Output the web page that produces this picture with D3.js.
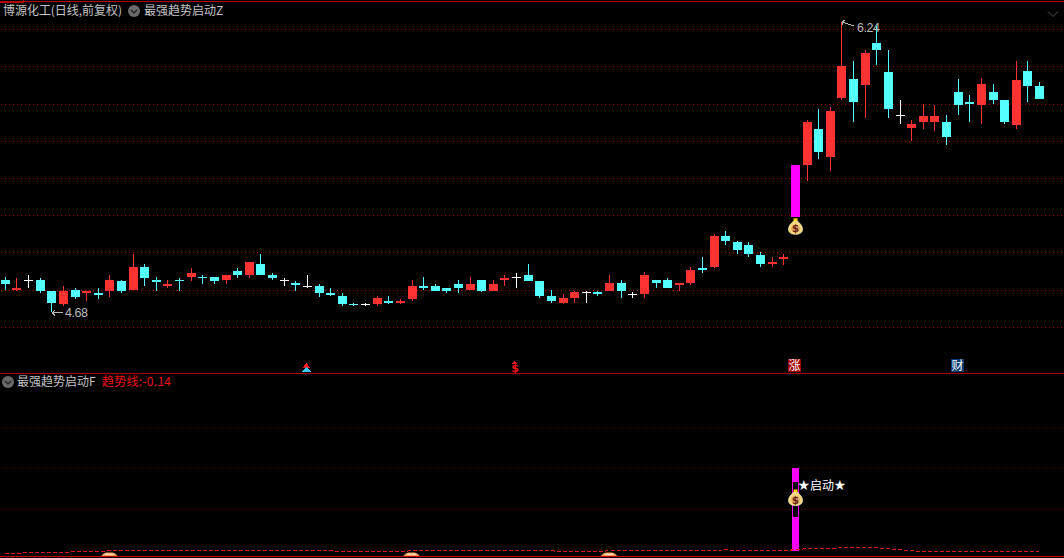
<!DOCTYPE html>
<html><head><meta charset="utf-8">
<script src="https://cdn.jsdelivr.net/npm/d3@7/dist/d3.min.js"></script>
<style>html,body{margin:0;padding:0;background:#000;overflow:hidden}svg{display:block}</style>
</head><body><svg id="c" width="1064" height="558"></svg>
<script>
const opens=[4.85,4.80,4.85,4.85,4.79,4.72,4.80,4.78,4.78,4.79,4.845,4.80,4.92,4.85,4.82,4.852,4.87,4.87,4.87,4.85,4.90,4.88,4.94,
4.88,4.85,4.835,4.82,4.82,4.78,4.765,4.722,4.72,4.72,4.74,4.73,4.75,4.82,4.82,4.81,4.83,4.80,4.85,4.79,4.85,4.87,4.88,
4.845,4.765,4.73,4.755,4.785,4.785,4.79,4.835,4.775,4.775,4.85,4.85,4.825,4.835,4.915,4.92,5.09,5.055,5.04,4.985,4.94,4.965,
5.19,5.47,5.665,5.515,5.83,5.935,5.90,6.125,5.97,5.74,5.67,5.70,5.70,5.70,5.865,5.81,5.795,5.865,5.82,5.685,5.975,5.895];
const closes=[4.83,4.81,4.85,4.79,4.73,4.79,4.76,4.79,4.77,4.85,4.79,4.92,4.86,4.84,4.83,4.85,4.89,4.86,4.845,4.88,4.88,4.95,4.88,
4.86,4.85,4.825,4.82,4.78,4.77,4.72,4.72,4.72,4.755,4.73,4.74,4.82,4.81,4.79,4.79,4.81,4.83,4.79,4.83,4.86,4.87,4.845,
4.765,4.74,4.755,4.785,4.785,4.775,4.835,4.79,4.775,4.88,4.835,4.81,4.835,4.905,4.905,5.09,5.06,5.01,4.99,4.94,4.95,4.975,
5.47,5.70,5.54,5.76,6.00,5.81,6.075,6.09,5.77,5.74,5.69,5.735,5.735,5.62,5.795,5.80,5.905,5.82,5.70,5.925,5.895,5.825];
const highs=[4.87,4.86,4.88,4.86,4.79,4.82,4.81,4.79,4.81,4.88,4.85,4.99,4.94,4.87,4.85,4.86,4.915,4.88,4.87,4.88,4.915,4.95,4.99,
4.89,4.86,4.845,4.88,4.83,4.81,4.78,4.73,4.73,4.765,4.765,4.75,4.85,4.87,4.83,4.81,4.85,4.87,4.85,4.85,4.88,4.89,4.94,
4.845,4.80,4.775,4.79,4.79,4.79,4.88,4.85,4.785,4.895,4.85,4.86,4.835,4.92,4.975,5.10,5.115,5.06,5.055,5.00,4.975,4.99,
5.47,5.71,5.77,5.78,6.24,6.03,6.09,6.22,6.09,5.82,5.71,5.80,5.795,5.74,5.935,5.845,5.94,5.905,5.82,6.03,6.03,5.915];
const lows=[4.80,4.79,4.81,4.78,4.68,4.71,4.75,4.74,4.75,4.76,4.78,4.80,4.82,4.79,4.81,4.79,4.845,4.83,4.83,4.83,4.86,4.86,4.88,
4.85,4.82,4.79,4.81,4.76,4.765,4.71,4.71,4.71,4.71,4.72,4.72,4.74,4.80,4.79,4.78,4.78,4.80,4.785,4.79,4.82,4.81,4.845,
4.755,4.73,4.72,4.73,4.73,4.765,4.79,4.755,4.755,4.755,4.81,4.81,4.79,4.825,4.89,4.915,5.04,4.99,4.975,4.92,4.92,4.93,
5.19,5.385,5.50,5.435,5.82,5.70,5.725,6.01,5.725,5.69,5.60,5.665,5.655,5.575,5.74,5.70,5.69,5.80,5.69,5.665,5.81,5.825];
const priceTicks=[4.6,4.8,5.0,5.2,5.4,5.6,5.8,6.0,6.2];
const lowerTicks=[1.96,4.0,6.03];
const trendLine=[-.22,-.22,-.19,-.19,-.19,-.19,-.14,-.14,-.14,
-.09,-.09,-.09,-.09,-.09,-.09,-.09,-.09,-.09,-.09,-.09,-.09,-.09,-.09,-.09,-.09,-.09,-.09,-.09,-.09,
-.14,-.14,-.14,-.14,-.14,-.14,
-.09,-.09,-.09,-.09,-.09,-.09,-.09,-.09,-.09,-.09,-.09,-.09,-.09,
-.14,-.14,-.14,-.14,
-.09,-.09,-.09,-.09,-.09,-.09,-.09,-.09,-.09,-.09,-.04,-.09,-.09,-.09,-.09,-.09,
-.04,.01,.01,.01,.06,.06,.06,.06,.01,-.04,-.09,
-.14,-.14,-.14,-.14,-.14,-.14,-.14,-.14,-.14,-.14,-.14];
const signalBars=[{i:68,from:-.1,to:1.53,solid:1},{i:68,from:1.53,to:3.37,solid:0},{i:68,from:3.37,to:4,solid:1}];
const bottomMarks=[9,35,52];
const launchIndex=68, bagPriceOffset=5.14, bagLowerValue=2.55;
const lowIndex=4, highIndex=72;
const titleMain="博源化工(日线,前复权)", titleZ="最强趋势启动Z", titleF="最强趋势启动F", trendLabel="趋势线:-0.14";
const tagBoxes=[{i:68,t:"涨",fill:"#a00000"},{i:82,t:"财",fill:"#0b3b70"}];

const RED="#ff3232",CYAN="#54ffff",MAG="#ff00ff",CJK='"Noto Sans CJK SC",sans-serif';
const svg=d3.select("#c").attr("shape-rendering","crispEdges");
svg.append("rect").attr("width",1064).attr("height",558).attr("fill","#000");
const x=d3.scaleLinear().domain([0,89]).range([4.8,1039]);
const y=d3.scaleLinear().domain([4.6,6.2]).range([326.7,29.3]);
const yL=d3.scaleLinear().domain([0,4]).range([548.9,468.3]);
const px=i=>Math.round(x(i));

// dotted grid drawn through repeating 1px patterns
const defs=svg.append("defs");
[["dotP","#a80000"],["dotL","#780000"]].forEach(([id,cl])=>{
 const p=defs.append("pattern").attr("id",id).attr("patternUnits","userSpaceOnUse").attr("width",4).attr("height",1);
 p.append("rect").attr("x",1).attr("y",0).attr("width",1).attr("height",1).attr("fill",cl);
});
const grid=(vals,sc,id)=>svg.append("g").selectAll("rect").data(vals).join("rect")
 .attr("x",0).attr("width",1064).attr("y",d=>Math.round(sc(d))).attr("height",1).attr("fill",`url(#${id})`);
grid(priceTicks,y,"dotP");
grid(lowerTicks,yL,"dotL");

// frame
const hl=(yy,cl)=>svg.append("rect").attr("x",0).attr("y",yy).attr("width",1064).attr("height",1).attr("fill",cl);
hl(1,"#b00000");hl(373,"#a80000");hl(556,"#c00000");
svg.append("path").attr("d","M0 2.5H23.5V0").attr("fill","none").attr("stroke","#b00000");

// candles
const idx=d3.range(opens.length);
const colorOf=i=>closes[i]>opens[i]?RED:closes[i]<opens[i]?CYAN:"#fff";
const g=svg.append("g");
g.selectAll(".w").data(idx).join("rect").attr("x",px).attr("width",1)
 .attr("y",i=>Math.round(y(highs[i]))).attr("height",i=>Math.max(1,Math.round(y(lows[i]))-Math.round(y(highs[i]))))
 .attr("fill",i=>i===launchIndex?MAG:colorOf(i));
g.selectAll(".b").data(idx).join("rect").attr("x",i=>px(i)-4).attr("width",9)
 .attr("y",i=>Math.round(y(Math.max(opens[i],closes[i]))))
 .attr("height",i=>Math.max(1,Math.round(y(Math.min(opens[i],closes[i])))-Math.round(y(Math.max(opens[i],closes[i])))))
 .attr("fill",i=>i===launchIndex?MAG:colorOf(i));

// lower signal bars
svg.append("g").selectAll("rect").data(signalBars).join("rect")
 .attr("x",d=>px(d.i)-3+(d.solid?0:.5)).attr("width",d=>d.solid?7:6)
 .attr("y",d=>Math.round(yL(d.to))+(d.solid?0:.5)).attr("height",d=>Math.round(yL(d.from))-Math.round(yL(d.to))-(d.solid?0:1))
 .attr("fill",d=>d.solid?MAG:"#000").attr("stroke",d=>d.solid?"none":MAG);

// trend line
const line=d3.line().x((d,i)=>x(i)).y(d=>yL(d));
svg.append("path").attr("d",line(trendLine)).attr("fill","none").attr("stroke","#e81818").attr("stroke-dasharray","4 2");

// bottom orange marks
const bm=svg.append("g").attr("shape-rendering","auto");
bottomMarks.forEach(i=>{
 const cx=x(i);
 bm.append("path").attr("d",`M${cx-8} 556C${cx-6} 553 ${cx-4} 552.6 ${cx} 552.6S${cx+6} 553 ${cx+8} 556Z`).attr("fill","#f09a58");
 bm.append("rect").attr("x",cx-4.5).attr("y",553.6).attr("width",9).attr("height",1.2).attr("fill","#ffe6c8");
});

// money bag
function bag(cx,cy){
 const b=svg.append("g").attr("shape-rendering","auto").attr("transform",`translate(${cx},${cy})`);
 b.append("path").attr("d","M-2 -8H2V-5H-2Z").attr("fill","#ffd800");
 b.append("path").attr("d","M-2.2 -5H2.2C5 -2.5 7 0 7 3C7 6.5 4 8 0 8S-7 6.5 -7 3C-7 0 -5 -2.5 -2.2 -5Z").attr("fill","#f6d67c").attr("stroke","#fff2c0").attr("stroke-width",.7);
 b.append("ellipse").attr("cy",2.3).attr("rx",4.3).attr("ry",4).attr("fill","#d9a860");
 b.append("text").attr("y",6).attr("text-anchor","middle").attr("font-family","DejaVu Sans").attr("font-weight","bold").attr("font-size",10).attr("fill","#702818").text("$");
}
bag(px(launchIndex)+.5,y(bagPriceOffset));
bag(px(launchIndex)+.5,yL(bagLowerValue));

// text
const T=(xx,yy,t,cl,fs,ff)=>svg.append("text").attr("x",xx).attr("y",yy).attr("fill",cl).attr("font-size",fs||12).attr("font-family",ff||CJK).attr("shape-rendering","auto").text(t);
T(3,15,titleMain,"#c4c4c4").attr("textLength",119).attr("lengthAdjust","spacing");
T(144,15,titleZ,"#c4c4c4");
T(17,386,titleF,"#c4c4c4");
T(102,386,trendLabel,"#f01010").attr("textLength",69).attr("lengthAdjust","spacing");
T(797.5,490,"★","#fff",14,"DejaVu Sans");
T(810,489.5,"启动","#fff");
T(833.5,490,"★","#fff",14,"DejaVu Sans");
function chevBtn(cx,cy){
 svg.append("circle").attr("cx",cx).attr("cy",cy).attr("r",6).attr("fill","#6a6a6a").attr("shape-rendering","auto");
 svg.append("path").attr("d",`M${cx-3} ${cy-1}L${cx} ${cy+2}L${cx+3} ${cy-1}`).attr("fill","none").attr("stroke","#222").attr("stroke-width",1.4).attr("shape-rendering","auto");
}
chevBtn(134,11);chevBtn(8,382);
svg.append("path").attr("d","M1048 11.5L1053 16.5L1058 11.5").attr("fill","none").attr("stroke","#555").attr("shape-rendering","auto");

// low / high annotations
const A="#b8b8b8";
const lx=px(lowIndex)+1,ly=Math.round(y(4.68))+.5;
svg.append("path").attr("d",`M${lx+11} ${ly}H${lx}M${lx} ${ly}l3 -2M${lx} ${ly}l3 3`).attr("fill","none").attr("stroke",A);
T(65,317,"4.68",A,12.5,"Liberation Sans").attr("textLength",23);
const hx=px(highIndex)+1,hy=Math.round(y(6.24));
svg.append("path").attr("d",`M${hx+12} ${hy+4}L${hx+6} ${hy+2}L${hx} ${hy}M${hx} ${hy}l3 -2M${hx} ${hy}v3`).attr("fill","none").attr("stroke",A);
T(857,32,"6.24",A,12.5,"Liberation Sans").attr("textLength",23);

// tags
tagBoxes.forEach(d=>{
 const cx=px(d.i);
 svg.append("rect").attr("x",cx-7).attr("y",359).attr("width",13).attr("height",13).attr("fill",d.fill);
 T(cx-6.5,370,d.t,"#fff",12);
});
// signal arrows
const ax=px(26)-.5;
svg.append("path").attr("d",`M${ax} 363L${ax+4} 368H${ax-4}Z`).attr("fill","#ee1c1c");
svg.append("path").attr("d",`M${ax} 367L${ax+4.5} 372H${ax-4.5}Z`).attr("fill","#38c8f0");
const sx=px(44)-1.5;
svg.append("path").attr("d",`M${sx-2.5} 364L${sx} 361L${sx+2.5} 364Z`).attr("fill","#f01818");
T(sx-3.3,372,"$","#f01818",11,"DejaVu Sans").attr("font-weight","bold");
</script></body></html>
